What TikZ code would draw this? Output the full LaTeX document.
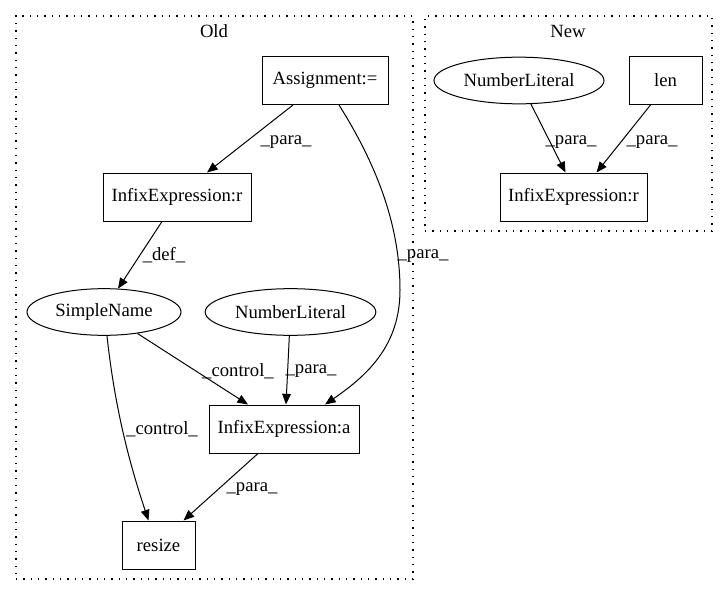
\documentclass[tikz,border=0pt]{standalone}
\usepackage{fontspec}
\setmainfont{Liberation Serif}
\usetikzlibrary{shapes.geometric,arrows.meta,calc}
\begin{document}
\begin{tikzpicture}[x=0.75pt,y=-0.75pt,
  every node/.style={font=\fontsize{14pt}{16pt}\selectfont, inner sep=0pt},
  boxnode/.style={draw, line width=0.75pt, rectangle, minimum height=36pt},
  ellnode/.style={draw, line width=0.75pt, ellipse, minimum height=35pt},
  conn/.style={draw, line width=0.75pt, -{Triangle[length=8pt,width=6.5pt]}},
  cluster/.style={draw, line width=0.9pt, dash pattern=on 1pt off 4.5pt, rectangle}
]
\useasboundingbox (0,0) rectangle (728,596);

% clusters
\node[cluster, minimum width=297.75pt, minimum height=422.25pt] (oldc) at (214.5,297.5) {};
\node[cluster, minimum width=215.25pt, minimum height=161.25pt] (newc) at (568.5,123.5) {};
\node (oldlbl) at (214,31) {Old};
\node (newlbl) at (568,31) {New};

% Old nodes
\node[boxnode, minimum width=94.5pt] (assign) at (325,80.5) {Assignment:=};
\node[boxnode, minimum width=111pt] (infro) at (177,197) {InfixExpression:r};
\node[ellnode, minimum width=115.5pt] (sn) at (104,312) {SimpleName};
\node[ellnode, minimum width=128pt] (nlo) at (290.5,312) {NumberLiteral};
\node[boxnode, minimum width=112.5pt] (infa) at (284,429) {InfixExpression:a};
\node[boxnode, minimum width=54.75pt] (resize) at (158.5,545) {resize};

% New nodes
\node[ellnode, minimum width=127.5pt] (nln) at (519,80.5) {NumberLiteral};
\node[boxnode, minimum width=54.75pt] (len) at (665.5,80.5) {len};
\node[boxnode, minimum width=110.25pt] (infrn) at (573.5,197) {InfixExpression:r};

% Old edges
\draw[conn] ($(assign.south)+(-32,0)$) -- ($(infro.north)+(30,0)$);
\node (l1) at (286,142) {\_para\_};

\coordinate (mid) at (400,290);
\draw[conn] ($(assign.south)+(14,0)$) .. controls (380,170) and (400,230) .. (mid)
  .. controls (400,345) and (368,375) .. ($(infa.north)+(41,0)$);
\node (l2) at (423,256) {\_para\_};

\draw[conn] ($(infro.south)+(-15,0)$) -- ($(sn.north)+(14,0.5)$);
\node (l3) at (164,255) {\_def\_};

\draw[conn] (sn) -- ($(infa.north)+(-36,0)$);
\node (l4) at (238,371) {\_control\_};

\draw[conn] (nlo) -- ($(infa.north)+(2,0)$);
\node (l5) at (311,371) {\_para\_};

\draw[conn] ($(sn.south)+(3,0)$) .. controls (115,410) and (130,465) .. ($(resize.north)+(-10,0)$);
\node (l6) at (162,429) {\_control\_};

\draw[conn] ($(infa.south)+(-26,0)$) -- ($(resize.north)+(25,0)$);
\node (l7) at (252,489) {\_para\_};

% New edges
\draw[conn] (nln) -- ($(infrn.north)+(-8,0)$);
\node (l8) at (571,142) {\_para\_};
\draw[conn] ($(len.south)+(-15,0)$) -- ($(infrn.north)+(23,0)$);
\node (l9) at (652,142) {\_para\_};
\end{tikzpicture}
\end{document}
